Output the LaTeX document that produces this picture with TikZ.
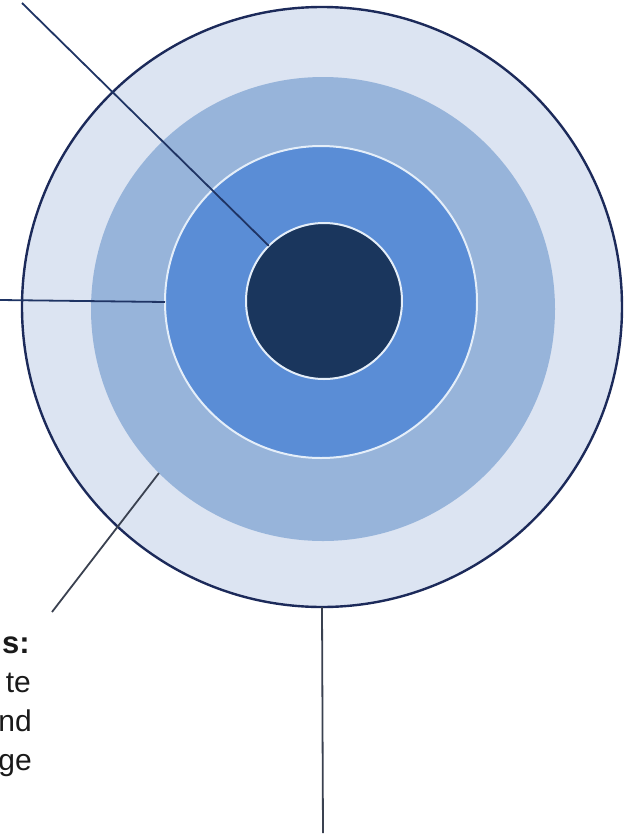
\documentclass[tikz,border=0pt]{standalone}
\usepackage{fontspec}
\setmainfont{Liberation Sans}
\definecolor{ringpale}{HTML}{DCE4F2}
\definecolor{ringgrey}{HTML}{97B4DA}
\definecolor{ringmid}{HTML}{5A8DD6}
\definecolor{coredark}{HTML}{1A365D}
\definecolor{navyedge}{HTML}{1C2A5A}
\definecolor{navyline}{HTML}{1F3464}
\definecolor{greyline}{HTML}{3A4150}
\definecolor{paleedge}{HTML}{E4EEF9}
\definecolor{textdark}{HTML}{1A1A1A}

\begin{document}
\begin{tikzpicture}[x=1pt, y=-1pt,
    disc/.style={circle, inner sep=0pt, outer sep=0pt},
    leader/.style={line width=1.8pt, draw=navyline},
    tag/.style={anchor=base east, inner sep=0pt, text=textdark,
                font=\fontsize{30}{36}\selectfont}]
        \useasboundingbox (0,0) rectangle (632,836);
        % rings, outside in
        \node[disc, minimum size=600pt, fill=ringpale, draw=navyedge, line width=2.4pt] (outer) at (322,307) {};
        \node[disc, minimum size=464pt, fill=ringgrey] (ring) at (323,309) {};
        \node[disc, minimum size=312pt, fill=ringmid, draw=paleedge, line width=2pt] (inner) at (321,302) {};
        \node[disc, minimum size=156pt, fill=coredark, draw=paleedge, line width=2pt] (core) at (324,301) {};
        % leader lines
        \coordinate (topend) at (22,3);
        \coordinate (leftend) at (0,300);
        \coordinate (lowend) at (52,612);
        \coordinate (bottomend) at (323,833);
        \draw[leader] (topend) -- (core.135);
        \draw[leader] (leftend) -- (inner.180);
        \draw[leader, draw=greyline] (lowend) -- (ring.225);
        \draw[leader, draw=greyline] (outer.south) -- (bottomend);
        % cut-off labels
        \node[tag, font=\fontsize{31}{37}\selectfont\bfseries] (tagone) at (30,653) {s:};
        \node[tag] (tagtwo) at (31,692) {te};
        \node[tag] (tagthree) at (32,731) {nd};
        \node[tag] (tagfour) at (32,770) {ge};
    \end{tikzpicture}
\end{document}
